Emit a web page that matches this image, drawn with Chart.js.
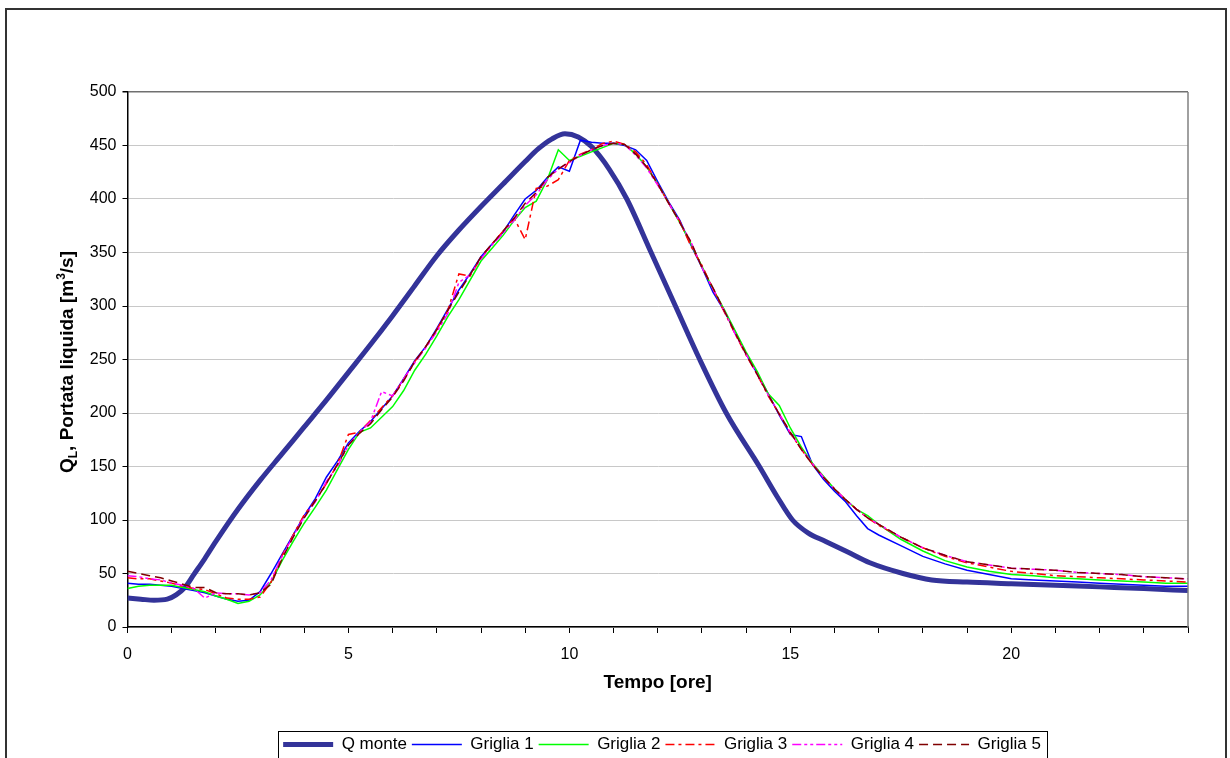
<!DOCTYPE html>
<html>
<head>
<meta charset="utf-8">
<script src="https://cdn.jsdelivr.net/npm/chart.js@4"></script>
<style>
  html, body { margin: 0; padding: 0; background: #fff; }
  canvas { display: block; }
</style>
</head>
<body>
<canvas id="portataChart" width="1230" height="758"></canvas>
<script>
// portata liquida - idrogramma monte vs griglie

const oreMonte = [0, 0.3, 0.6, 0.9, 1.1, 1.3, 1.5, 1.75, 2.0, 2.5, 3.0, 3.5, 4.0, 4.5, 5.0, 5.5, 6.0, 6.5, 7.0, 7.5, 8.0, 8.5, 9.0, 9.3, 9.6, 9.9, 10.2, 10.5, 10.9, 11.3, 11.85, 12.4, 12.95, 13.55, 14.3, 14.7, 15.05, 15.4, 15.8, 16.3, 16.8, 17.55, 18.2, 19, 20, 21, 22, 23, 24];
const qMonte = [27, 26, 25, 26, 30, 37, 49, 64, 80, 110, 137, 162, 187, 212, 238, 264, 291, 319, 347, 371, 393, 414, 435, 447, 456, 461, 458, 449, 428, 400, 350, 300, 250, 200, 150, 122, 100, 88, 80, 70, 60, 50, 44, 42, 40.5, 39, 37.5, 36, 34];

const oreGriglia = [0, 0.25, 0.5, 0.75, 1, 1.25, 1.5, 1.75, 2, 2.25, 2.5, 2.75, 3,
  3.25, 3.5, 3.75, 4, 4.25, 4.5, 4.75, 5, 5.25, 5.5, 5.75, 6,
  6.25, 6.5, 6.75, 7, 7.25, 7.5, 7.75, 8, 8.25, 8.5, 8.75, 9,
  9.25, 9.5, 9.75, 10, 10.25, 10.5, 10.75, 11, 11.25, 11.5, 11.75, 12,
  12.25, 12.5, 12.75, 13, 13.25, 13.5, 13.75, 14, 14.25, 14.5, 14.75, 15,
  15.25, 15.5, 15.75, 16, 16.25, 16.5, 16.75, 17,
  17.5, 18, 18.5, 19, 19.5, 20, 20.5, 21, 21.5, 22, 22.5, 23, 23.5, 24];

const griglia1 = [41, 40, 40, 39, 38, 36, 34, 32, 29, 26, 24, 25, 33,
  50, 68, 86, 104, 120, 140, 155, 172, 183, 192, 204, 216,
  232, 249, 262, 279, 297, 315, 330, 346, 358, 369, 385, 400,
  408, 420, 430, 426, 455, 453, 452, 452, 450, 446, 436, 416,
  397, 380, 357, 336, 313, 296, 276, 255, 237, 218, 198, 180,
  178, 152, 138, 127, 117, 104, 92, 86,
  76, 66, 59, 53, 49, 45, 44, 43, 42, 41, 40, 39, 38, 38];

const griglia2 = [36, 38, 39, 39, 39, 37, 35, 33, 29, 26, 22, 24, 30,
  42, 62, 80, 97, 112, 128, 147, 166, 182, 186, 196, 206,
  221, 240, 255, 272, 290, 306, 324, 342, 354, 366, 380, 392,
  398, 418, 446, 436, 440, 444, 448, 452, 451, 442, 430, 414,
  396, 378, 358, 337, 316, 297, 277, 257, 239, 218, 207, 186,
  168, 153, 141, 129, 119, 110, 104, 96,
  82, 71, 62, 56, 52, 49, 48, 46, 45, 44, 43, 42, 41, 41];

const griglia3 = [46, 45, 45, 43, 41, 38, 36, 35, 31, 27, 26, 26, 28,
  42, 67, 86, 105, 118, 134, 152, 180, 182, 193, 205, 216,
  231, 248, 262, 278, 296, 330, 328, 345, 358, 370, 382, 362,
  410, 412, 418, 436, 442, 446, 452, 454, 451, 444, 432, 414,
  396, 379, 356, 338, 316, 295, 274, 254, 236, 216, 199, 181,
  166, 152, 140, 129, 119, 110, 102, 95,
  84, 74, 66, 60, 56, 52, 50, 48, 47, 46, 45, 44, 43, 42];

const griglia4 = [48, 47, 45, 44, 41, 39, 36, 27, 32, 31, 31, 30, 32,
  44, 66, 85, 103, 117, 136, 150, 170, 182, 192, 220, 216,
  232, 247, 261, 276, 293, 322, 329, 344, 357, 368, 380, 394,
  404, 418, 428, 434, 441, 446, 450, 452, 451, 441, 429, 413,
  396, 378, 360, 336, 316, 296, 274, 255, 236, 217, 199, 182,
  166, 153, 140, 129, 119, 110, 102, 96,
  84, 74, 67, 61, 58, 55, 54, 53, 51, 50, 49, 47, 46, 45];

const griglia5 = [52, 50, 48, 46, 43, 40, 37, 37, 32, 31, 31, 30, 32,
  40, 64, 84, 102, 118, 134, 152, 170, 181, 190, 203, 215,
  230, 248, 262, 278, 296, 313, 329, 346, 358, 370, 382, 396,
  406, 420, 428, 435, 441, 446, 450, 452, 451, 442, 430, 414,
  396, 378, 360, 336, 317, 296, 275, 255, 236, 217, 199, 182,
  166, 152, 140, 129, 119, 110, 102, 96,
  84, 74, 67, 61, 58, 55, 54, 53, 51, 50, 49, 47, 46, 45];

const FONT = "'Liberation Sans', Arial, sans-serif";
const LEGEND_SHIFT = 68;   // legend is centred under the plot, not the canvas

function toPoints(xs, ys) {
    return xs.map((x, i) => ({ x: x, y: ys[i] }));
}

function grigliaSet(label, values, color, dash, order) {
    return {
        label: label,
        data: toPoints(oreGriglia, values),
        borderColor: color,
        backgroundColor: color,
        borderWidth: 1.5,
        borderDash: dash,
        pointRadius: 0,
        tension: 0,
        fill: false,
        order: order
    };
}

// frames: outer border, plot border, legend box, y title with sub/superscript
const decorations = {
    id: 'decorations',
    afterLayout(chart) {
        chart.legend.left += LEGEND_SHIFT;
        chart.legend.right += LEGEND_SHIFT;
    },
    beforeDraw(chart) {
        const ctx = chart.ctx;
        ctx.save();
        ctx.fillStyle = '#fff';
        ctx.fillRect(0, 0, chart.width, chart.height);
        ctx.restore();
    },
    afterDraw(chart) {
        const ctx = chart.ctx;
        const area = chart.chartArea;
        ctx.save();

        // right edge of plot area
        ctx.strokeStyle = '#808080';
        ctx.lineWidth = 1.5;
        ctx.beginPath();
        ctx.moveTo(area.right, area.top);
        ctx.lineTo(area.right, area.bottom);
        ctx.stroke();

        // outer frame
        ctx.strokeStyle = '#333';
        ctx.lineWidth = 2;
        ctx.strokeRect(6, 9, 1220, 770);

        // legend frame
        const lg = chart.legend;
        if (lg.lineWidths && lg.lineWidths.length) {
            const pad = lg.options.labels.padding;
            const startX = (lg.left + pad + lg.right - lg.lineWidths[0]) / 2;
            const endX = startX + lg.lineWidths[0] - pad;
            const top = lg.top + pad - 5;
            const h = lg.legendHitBoxes[0].height + 10;
            ctx.strokeStyle = '#000';
            ctx.lineWidth = 1;
            ctx.strokeRect(Math.round(startX - 5) + 0.5, Math.round(top) + 0.5, Math.round(endX - startX + 11), Math.round(h));
        }

        // y axis title: Q_L, Portata liquida [m^3/s]
        const parts = [
            { t: 'Q', size: 19, dy: 0 },
            { t: 'L', size: 12, dy: 4 },
            { t: ', Portata liquida [m', size: 19, dy: 0 },
            { t: '3', size: 12, dy: -8 },
            { t: '/s]', size: 19, dy: 0 }
        ];
        ctx.fillStyle = '#000';
        ctx.textBaseline = 'alphabetic';
        let total = 0;
        parts.forEach(p => {
            ctx.font = 'bold ' + p.size + 'px ' + FONT;
            p.w = ctx.measureText(p.t).width;
            total += p.w;
        });
        ctx.translate(73, 362);
        ctx.rotate(-Math.PI / 2);
        let x = -total / 2;
        parts.forEach(p => {
            ctx.font = 'bold ' + p.size + 'px ' + FONT;
            ctx.fillText(p.t, x, p.dy);
            x += p.w;
        });
        ctx.restore();
    }
};

const ctx = document.getElementById('portataChart').getContext('2d');

const chart = new Chart(ctx, {
    type: 'line',
    data: {
        datasets: [
            {
                label: 'Q monte',
                data: toPoints(oreMonte, qMonte),
                borderColor: '#333399',
                backgroundColor: '#333399',
                borderWidth: 5,
                pointRadius: 0,
                cubicInterpolationMode: 'monotone',
                fill: false,
                order: 6
            },
            grigliaSet('Griglia 1', griglia1, '#0000FF', [], 5),
            grigliaSet('Griglia 2', griglia2, '#00FF00', [], 4),
            grigliaSet('Griglia 3', griglia3, '#FF0000', [9, 4, 3, 4], 3),
            grigliaSet('Griglia 4', griglia4, '#FF00FF', [9, 3, 3, 3, 3, 3], 2),
            grigliaSet('Griglia 5', griglia5, '#800000', [9, 5], 1)
        ]
    },
    options: {
        responsive: false,
        animation: false,
        devicePixelRatio: 1,
        layout: { padding: { top: 92, right: 42, bottom: -5, left: 0 } },
        plugins: {
            tooltip: { enabled: false },
            legend: {
                position: 'bottom',
                labels: {
                    usePointStyle: true,
                    pointStyle: 'line',
                    pointStyleWidth: 50,
                    padding: 5,
                    color: '#000',
                    font: { family: FONT, size: 17 },
                    sort: (a, b) => a.datasetIndex - b.datasetIndex,
                    generateLabels: chart => {
                        const items = Chart.defaults.plugins.legend.labels.generateLabels(chart);
                        items.forEach(it => {
                            const ds = chart.data.datasets[it.datasetIndex];
                            it.lineDash = ds.borderDash || [];
                            it.lineWidth = ds.borderWidth;
                            it.strokeStyle = ds.borderColor;
                        });
                        return items;
                    }
                }
            }
        },
        scales: {
            x: {
                type: 'linear',
                min: 0,
                max: 24,
                afterFit: s => { s.height = 104; },
                ticks: {
                    stepSize: 1,
                    autoSkip: false,
                    maxRotation: 0,
                    padding: 12,
                    color: '#000',
                    font: { family: FONT, size: 16 },
                    callback: v => (v % 5 === 0 ? String(v) : '')
                },
                grid: {
                    drawOnChartArea: false,
                    tickColor: '#000',
                    tickLength: 6
                },
                border: { color: '#000', width: 1.5 },
                title: {
                    display: true,
                    text: 'Tempo [ore]',
                    color: '#000',
                    font: { family: FONT, size: 19, weight: 'bold' },
                    padding: { top: 4, bottom: 37 }
                }
            },
            y: {
                min: 0,
                max: 500,
                afterFit: s => { s.width = 127.5; },
                ticks: {
                    stepSize: 50,
                    padding: 6,
                    color: '#000',
                    font: { family: FONT, size: 16 }
                },
                grid: {
                    color: c => (c.tick && c.tick.value === 500 ? '#707070' : '#c8c8c8'),
                    lineWidth: c => (c.tick && c.tick.value === 500 ? 1.5 : 1),
                    tickColor: '#000',
                    tickLength: 5
                },
                border: { color: '#000', width: 1.5 }
            }
        }
    },
    plugins: [decorations]
});
</script>
</body>
</html>
